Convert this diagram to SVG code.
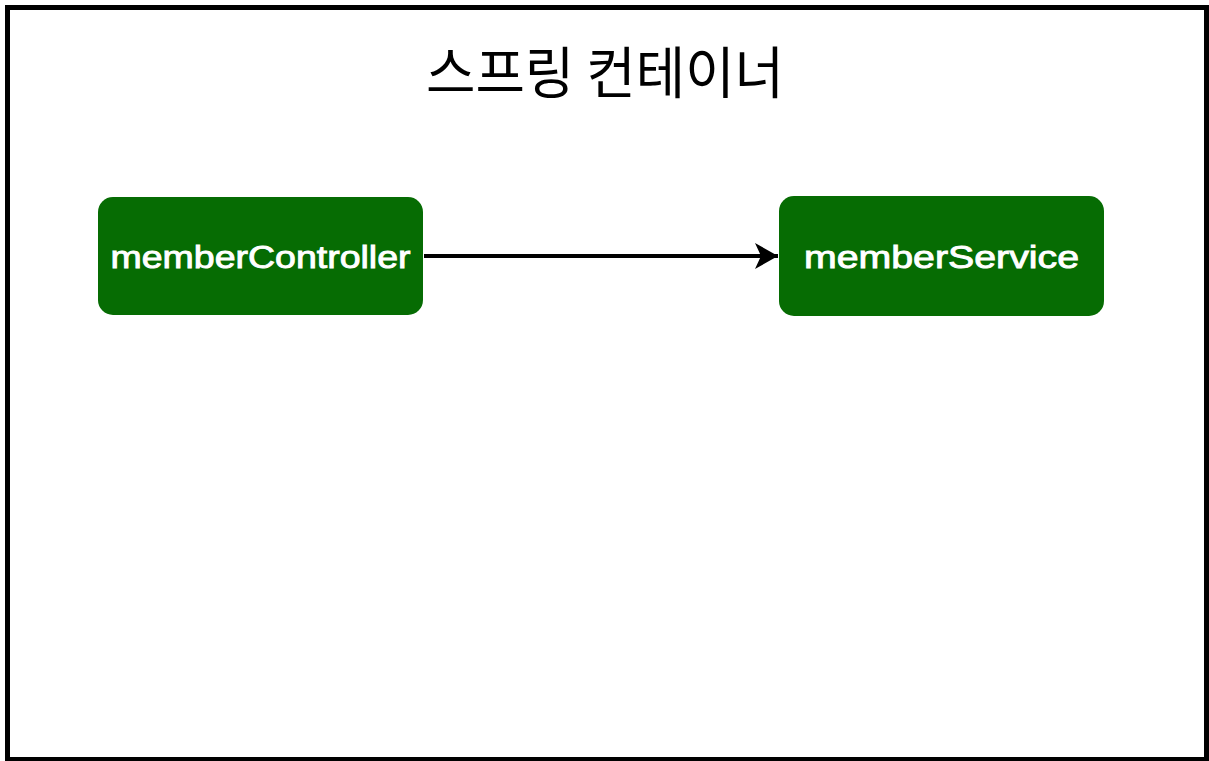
<svg xmlns="http://www.w3.org/2000/svg" width="1209" height="761" viewBox="0 0 1209 761">
  <style>
    .node rect { fill: #066c03; }
    .node text { fill: #ffffff; stroke: #ffffff; stroke-width: 0.9; font-family: "Liberation Sans", Arial, sans-serif; font-size: 32px; text-anchor: middle; }
    .title { fill: #000000; font-family: "Noto Sans CJK KR", "Noto Sans", sans-serif; font-size: 56px; text-anchor: middle; }
    .edge { stroke: #000000; stroke-width: 4; fill: none; }
  </style>
  <defs>
    <marker id="arrow" markerUnits="userSpaceOnUse" markerWidth="26" markerHeight="30" refX="24" refY="14" orient="auto">
      <path d="M24,14 L1,1 L7,14 L1,27 Z" fill="#000000"/>
    </marker>
  </defs>
  <rect x="0" y="0" width="1209" height="761" fill="#ffffff"/>
  <g id="container">
    <rect x="7.5" y="7.5" width="1199" height="752" fill="#ffffff" stroke="#000000" stroke-width="5"/>
    <text class="title" x="605" y="93" textLength="358" lengthAdjust="spacingAndGlyphs">스프링 컨테이너</text>
  </g>
  <g id="connectors">
    <line class="edge" x1="424" y1="256" x2="778" y2="256" marker-end="url(#arrow)"/>
  </g>
  <g id="memberController" class="node">
    <rect x="98" y="197" width="325" height="118" rx="15" ry="15"/>
    <text x="260.5" y="268" textLength="300" lengthAdjust="spacingAndGlyphs">memberController</text>
  </g>
  <g id="memberService" class="node">
    <rect x="779" y="196" width="325" height="120" rx="15" ry="15"/>
    <text x="941.5" y="268" textLength="275" lengthAdjust="spacingAndGlyphs">memberService</text>
  </g>
</svg>
